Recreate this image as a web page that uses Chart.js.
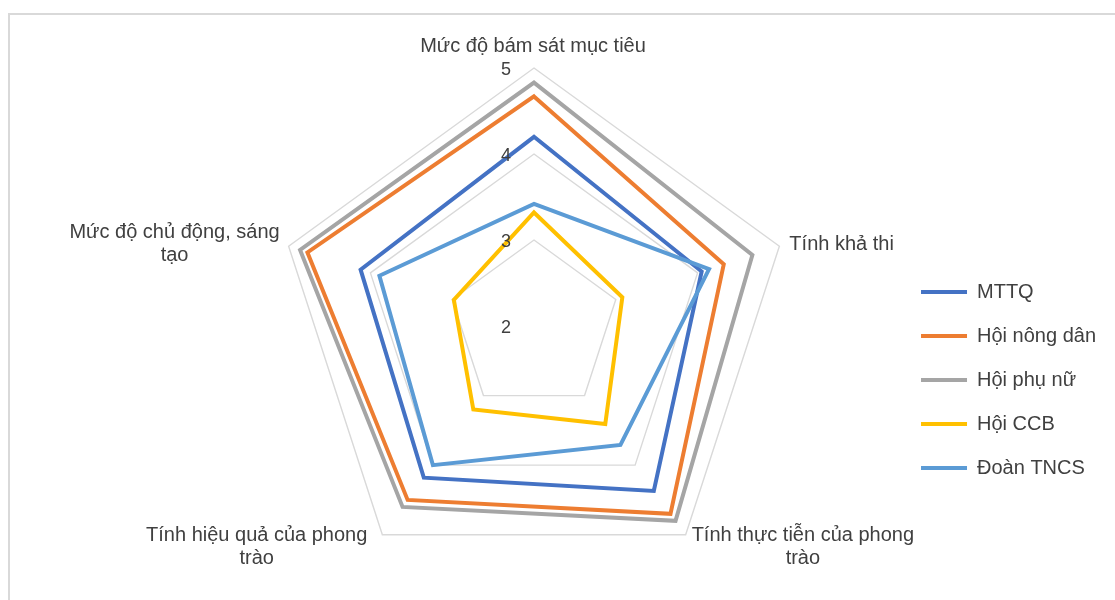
<!DOCTYPE html>
<html>
<head>
<meta charset="utf-8">
<script src="https://cdn.jsdelivr.net/npm/chart.js@4.4.1/dist/chart.umd.min.js"></script>
<style>
    html, body { margin: 0; padding: 0; background: #fff; overflow: hidden; }
    #wrap { position: relative; width: 1115px; height: 600px; }
    #frame { position: absolute; left: 8px; top: 13px; width: 1300px; height: 800px; border: 2px solid #d9d9d9; }
    #radarChart { position: absolute; left: 0; top: 0; }
</style>
</head>
<body>
<div id="wrap">
    <div id="frame"></div>
    <canvas id="radarChart" width="1115" height="600"></canvas>
</div>
<script>
// Categories (line breaks as wrapped in the original)
const categories = [
    ['Mức độ bám sát mục tiêu'],
    ['Tính khả thi'],
    ['Tính thực tiễn của phong', 'trào'],
    ['Tính hiệu quả của phong', 'trào'],
    ['Mức độ chủ động, sáng', 'tạo']
];

// Series values (same order as categories)
const mttq       = [4.20, 4.05, 4.37, 4.18, 4.12];
const hoiNongDan = [4.67, 4.32, 4.70, 4.50, 4.77];
const hoiPhuNu   = [4.83, 4.67, 4.80, 4.60, 4.86];
const hoiCCB     = [3.32, 3.08, 3.41, 3.20, 2.98];
const doanTNCS   = [3.42, 4.14, 3.71, 4.00, 3.89];

const seriesNames = ['MTTQ', 'Hội nông dân', 'Hội phụ nữ', 'Hội CCB', 'Đoàn TNCS'];
const seriesData = [mttq, hoiNongDan, hoiPhuNu, hoiCCB, doanTNCS];
const seriesColors = ['#4472C4', '#ED7D31', '#A5A5A5', '#FFC000', '#5B9BD5'];

// Axis range / tick labels
const axisMin = 2;
const axisMax = 5;
const axisStep = 1;

const textColor = '#404040';
const fontFamily = '"Liberation Sans", Arial, sans-serif';

// where each category label sits relative to its outer vertex
const labelAlign = ['center', 'left', 'left', 'right', 'right'];
const labelOffsets = [[-1, -16], [10, 4], [6, 6], [-15, 6], [-9, -8]];
const labelLineHeight = 23;

// Tick numbers + category labels, placed like Excel does it
const radarText = {
    id: 'radarText',
    afterDatasetsDraw(chart) {
        const r = chart.scales.r;
        const ctx = chart.ctx;
        ctx.save();
        ctx.font = '18px ' + fontFamily;
        ctx.fillStyle = textColor;
        ctx.textAlign = 'center';
        ctx.textBaseline = 'alphabetic';
        r.ticks.forEach(t => {
            const d = r.getDistanceFromCenterForValue(t.value);
            ctx.fillText(String(t.value), r.xCenter - 28, r.yCenter - d + 7);
        });
        ctx.restore();
    },
    afterDraw(chart) {
        const r = chart.scales.r;
        const ctx = chart.ctx;
        ctx.save();
        ctx.font = '20px ' + fontFamily;
        ctx.fillStyle = textColor;
        ctx.textAlign = 'center';
        ctx.textBaseline = 'alphabetic';
        chart.data.labels.forEach((lines, i) => {
            const p = r.getPointPosition(i, r.drawingArea);
            const [dx, dy] = labelOffsets[i];
            const w = Math.max(...lines.map(l => ctx.measureText(l).width));
            let cx = p.x + dx;
            if (labelAlign[i] === 'left') cx += w / 2;
            if (labelAlign[i] === 'right') cx -= w / 2;
            lines.forEach((l, k) => ctx.fillText(l, cx, p.y + dy + k * labelLineHeight));
        });
        ctx.restore();
    }
};

const ctx = document.getElementById('radarChart').getContext('2d');
new Chart(ctx, {
    type: 'radar',
    data: {
        labels: categories,
        datasets: seriesNames.map((name, i) => ({
            label: name,
            data: seriesData[i],
            borderColor: seriesColors[i],
            backgroundColor: seriesColors[i],
            borderWidth: 4,
            borderCapStyle: 'round',
            fill: false,
            tension: 0,
            pointRadius: 0,
            pointHoverRadius: 0,
            order: seriesNames.length - i   // later series drawn on top
        }))
    },
    options: {
        responsive: false,
        animation: false,
        layout: { padding: { left: 171, right: 9, top: 68, bottom: 16 } },
        plugins: {
            tooltip: { enabled: false },
            legend: {
                position: 'right',
                align: 'start',
                title: { display: true, text: '', padding: { top: 180, bottom: 0 }, font: { size: 10, lineHeight: 1 } },
                labels: {
                    usePointStyle: true,
                    pointStyle: 'line',
                    pointStyleWidth: 46,
                    padding: 24,
                    color: textColor,
                    font: { size: 20, family: fontFamily },
                    sort: (a, b) => a.datasetIndex - b.datasetIndex
                }
            }
        },
        scales: {
            r: {
                min: axisMin,
                max: axisMax,
                ticks: { display: false, stepSize: axisStep },
                pointLabels: { display: false },
                angleLines: { display: false },
                grid: { color: '#d9d9d9', lineWidth: 1.4 }
            }
        }
    },
    plugins: [radarText]
});
</script>
</body>
</html>
